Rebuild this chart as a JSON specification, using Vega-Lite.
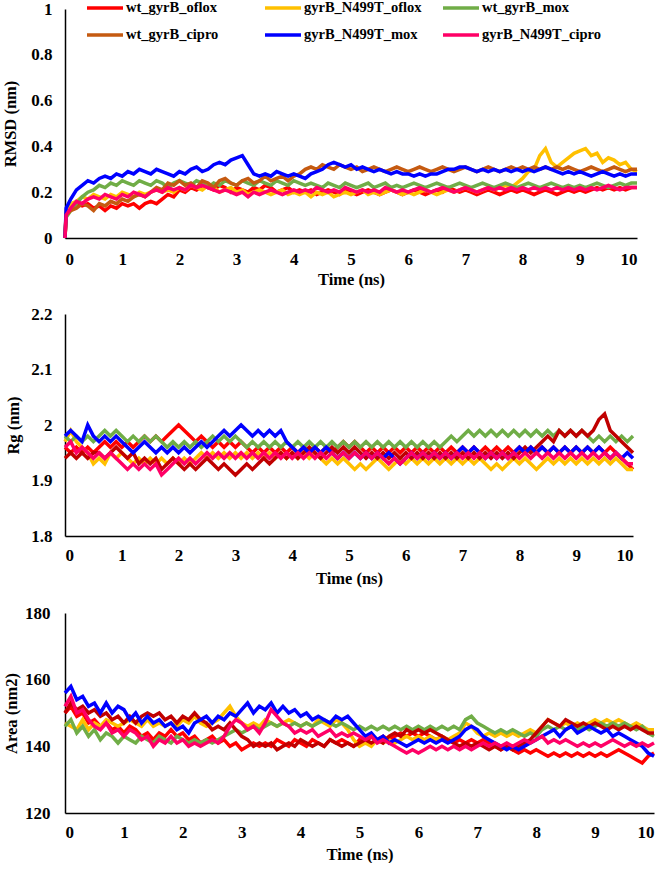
{
"$schema": "https://vega.github.io/schema/vega-lite/v6.json",
"background": "white",
"padding": {"left": 2, "top": -12, "right": 0, "bottom": 0},
"spacing": 17,
"resolve": {"scale": {"color": "independent"}},
"config": {
  "view": {"stroke": null},
  "axis": {"grid": false, "ticks": false, "domainColor": "black", "domainWidth": 1.5, "labelFont": "Liberation Serif", "labelFontWeight": "bold", "labelFontSize": 17, "labelColor": "black", "titleFont": "Liberation Serif", "titleFontWeight": "bold", "titleFontSize": 16.5, "titleColor": "black"},
  "line": {"strokeWidth": 3.5}
},
"vconcat": [
{
  "width": 572, "height": 229,
  "data": {"values": [
{"t":0,"a":0,"b":0,"c":0,"d":0,"e":0,"f":0},
{"t":0.02,"a":0.11,"b":0.12,"c":0.09,"d":0.1,"e":0.13,"f":0.1},
{"t":0.1,"a":0.13,"b":0.15,"c":0.12,"d":0.12,"e":0.17,"f":0.13},
{"t":0.2,"a":0.15,"b":0.16,"c":0.15,"d":0.13,"e":0.21,"f":0.16},
{"t":0.3,"a":0.14,"b":0.18,"c":0.18,"d":0.15,"e":0.23,"f":0.15},
{"t":0.4,"a":0.15,"b":0.17,"c":0.2,"d":0.14,"e":0.25,"f":0.17},
{"t":0.5,"a":0.13,"b":0.19,"c":0.21,"d":0.12,"e":0.24,"f":0.18},
{"t":0.6,"a":0.14,"b":0.18,"c":0.23,"d":0.15,"e":0.26,"f":0.17},
{"t":0.7,"a":0.12,"b":0.17,"c":0.22,"d":0.14,"e":0.27,"f":0.19},
{"t":0.8,"a":0.14,"b":0.19,"c":0.24,"d":0.16,"e":0.26,"f":0.18},
{"t":0.9,"a":0.13,"b":0.18,"c":0.23,"d":0.15,"e":0.28,"f":0.17},
{"t":1.0,"a":0.15,"b":0.2,"c":0.25,"d":0.17,"e":0.27,"f":0.19},
{"t":1.1,"a":0.14,"b":0.19,"c":0.24,"d":0.16,"e":0.29,"f":0.18},
{"t":1.2,"a":0.15,"b":0.18,"c":0.23,"d":0.18,"e":0.28,"f":0.2},
{"t":1.3,"a":0.13,"b":0.2,"c":0.25,"d":0.19,"e":0.3,"f":0.19},
{"t":1.4,"a":0.15,"b":0.19,"c":0.24,"d":0.18,"e":0.29,"f":0.18},
{"t":1.5,"a":0.16,"b":0.2,"c":0.23,"d":0.2,"e":0.28,"f":0.2},
{"t":1.6,"a":0.15,"b":0.21,"c":0.25,"d":0.22,"e":0.3,"f":0.21},
{"t":1.7,"a":0.17,"b":0.2,"c":0.24,"d":0.21,"e":0.29,"f":0.2},
{"t":1.8,"a":0.19,"b":0.21,"c":0.22,"d":0.24,"e":0.28,"f":0.22},
{"t":1.9,"a":0.18,"b":0.2,"c":0.24,"d":0.23,"e":0.27,"f":0.21},
{"t":2.0,"a":0.21,"b":0.22,"c":0.25,"d":0.25,"e":0.29,"f":0.22},
{"t":2.1,"a":0.2,"b":0.21,"c":0.24,"d":0.23,"e":0.28,"f":0.21},
{"t":2.2,"a":0.22,"b":0.23,"c":0.23,"d":0.24,"e":0.3,"f":0.23},
{"t":2.3,"a":0.21,"b":0.22,"c":0.25,"d":0.22,"e":0.31,"f":0.22},
{"t":2.4,"a":0.23,"b":0.21,"c":0.24,"d":0.25,"e":0.29,"f":0.23},
{"t":2.5,"a":0.22,"b":0.23,"c":0.22,"d":0.24,"e":0.3,"f":0.22},
{"t":2.6,"a":0.21,"b":0.22,"c":0.24,"d":0.22,"e":0.32,"f":0.21},
{"t":2.7,"a":0.23,"b":0.2,"c":0.23,"d":0.25,"e":0.33,"f":0.2},
{"t":2.8,"a":0.22,"b":0.21,"c":0.25,"d":0.26,"e":0.32,"f":0.21},
{"t":2.9,"a":0.2,"b":0.22,"c":0.24,"d":0.24,"e":0.34,"f":0.2},
{"t":3.0,"a":0.22,"b":0.2,"c":0.23,"d":0.23,"e":0.35,"f":0.19},
{"t":3.1,"a":0.21,"b":0.21,"c":0.25,"d":0.25,"e":0.36,"f":0.2},
{"t":3.2,"a":0.2,"b":0.19,"c":0.24,"d":0.26,"e":0.32,"f":0.18},
{"t":3.3,"a":0.22,"b":0.2,"c":0.23,"d":0.24,"e":0.28,"f":0.2},
{"t":3.4,"a":0.21,"b":0.21,"c":0.25,"d":0.25,"e":0.27,"f":0.19},
{"t":3.5,"a":0.23,"b":0.2,"c":0.24,"d":0.27,"e":0.28,"f":0.2},
{"t":3.6,"a":0.22,"b":0.19,"c":0.23,"d":0.25,"e":0.27,"f":0.21},
{"t":3.7,"a":0.2,"b":0.2,"c":0.25,"d":0.26,"e":0.29,"f":0.2},
{"t":3.8,"a":0.21,"b":0.21,"c":0.24,"d":0.27,"e":0.28,"f":0.19},
{"t":3.9,"a":0.22,"b":0.19,"c":0.23,"d":0.25,"e":0.27,"f":0.2},
{"t":4.0,"a":0.2,"b":0.2,"c":0.25,"d":0.27,"e":0.28,"f":0.21},
{"t":4.1,"a":0.21,"b":0.19,"c":0.24,"d":0.28,"e":0.27,"f":0.2},
{"t":4.2,"a":0.2,"b":0.2,"c":0.23,"d":0.3,"e":0.26,"f":0.21},
{"t":4.3,"a":0.21,"b":0.18,"c":0.24,"d":0.31,"e":0.28,"f":0.2},
{"t":4.4,"a":0.19,"b":0.2,"c":0.23,"d":0.3,"e":0.29,"f":0.22},
{"t":4.5,"a":0.2,"b":0.19,"c":0.22,"d":0.32,"e":0.3,"f":0.21},
{"t":4.6,"a":0.21,"b":0.2,"c":0.24,"d":0.31,"e":0.32,"f":0.2},
{"t":4.7,"a":0.2,"b":0.18,"c":0.23,"d":0.3,"e":0.33,"f":0.21},
{"t":4.8,"a":0.19,"b":0.19,"c":0.22,"d":0.32,"e":0.32,"f":0.2},
{"t":4.9,"a":0.21,"b":0.2,"c":0.24,"d":0.31,"e":0.31,"f":0.22},
{"t":5.0,"a":0.2,"b":0.19,"c":0.23,"d":0.3,"e":0.32,"f":0.21},
{"t":5.1,"a":0.19,"b":0.2,"c":0.22,"d":0.31,"e":0.3,"f":0.2},
{"t":5.2,"a":0.2,"b":0.21,"c":0.23,"d":0.29,"e":0.31,"f":0.21},
{"t":5.3,"a":0.21,"b":0.19,"c":0.24,"d":0.3,"e":0.3,"f":0.2},
{"t":5.4,"a":0.2,"b":0.2,"c":0.22,"d":0.31,"e":0.29,"f":0.21},
{"t":5.5,"a":0.19,"b":0.19,"c":0.23,"d":0.3,"e":0.3,"f":0.2},
{"t":5.6,"a":0.2,"b":0.2,"c":0.24,"d":0.29,"e":0.29,"f":0.22},
{"t":5.7,"a":0.21,"b":0.21,"c":0.22,"d":0.3,"e":0.28,"f":0.21},
{"t":5.8,"a":0.2,"b":0.2,"c":0.23,"d":0.31,"e":0.29,"f":0.2},
{"t":5.9,"a":0.19,"b":0.19,"c":0.22,"d":0.3,"e":0.28,"f":0.21},
{"t":6.0,"a":0.2,"b":0.2,"c":0.23,"d":0.29,"e":0.28,"f":0.2},
{"t":6.1,"a":0.21,"b":0.19,"c":0.24,"d":0.3,"e":0.27,"f":0.21},
{"t":6.2,"a":0.2,"b":0.2,"c":0.23,"d":0.31,"e":0.28,"f":0.22},
{"t":6.3,"a":0.19,"b":0.21,"c":0.22,"d":0.3,"e":0.27,"f":0.21},
{"t":6.4,"a":0.2,"b":0.2,"c":0.23,"d":0.29,"e":0.28,"f":0.2},
{"t":6.5,"a":0.21,"b":0.19,"c":0.24,"d":0.3,"e":0.28,"f":0.21},
{"t":6.6,"a":0.2,"b":0.2,"c":0.23,"d":0.31,"e":0.29,"f":0.22},
{"t":6.7,"a":0.22,"b":0.21,"c":0.22,"d":0.3,"e":0.3,"f":0.21},
{"t":6.8,"a":0.21,"b":0.2,"c":0.23,"d":0.29,"e":0.3,"f":0.2},
{"t":6.9,"a":0.2,"b":0.21,"c":0.24,"d":0.3,"e":0.31,"f":0.21},
{"t":7.0,"a":0.21,"b":0.22,"c":0.23,"d":0.31,"e":0.31,"f":0.22},
{"t":7.1,"a":0.2,"b":0.21,"c":0.22,"d":0.3,"e":0.3,"f":0.21},
{"t":7.2,"a":0.19,"b":0.2,"c":0.23,"d":0.29,"e":0.29,"f":0.2},
{"t":7.3,"a":0.2,"b":0.21,"c":0.24,"d":0.3,"e":0.3,"f":0.21},
{"t":7.4,"a":0.21,"b":0.22,"c":0.23,"d":0.31,"e":0.29,"f":0.22},
{"t":7.5,"a":0.2,"b":0.21,"c":0.22,"d":0.3,"e":0.3,"f":0.21},
{"t":7.6,"a":0.19,"b":0.22,"c":0.23,"d":0.29,"e":0.29,"f":0.22},
{"t":7.7,"a":0.2,"b":0.23,"c":0.24,"d":0.3,"e":0.3,"f":0.21},
{"t":7.8,"a":0.21,"b":0.22,"c":0.23,"d":0.31,"e":0.29,"f":0.22},
{"t":7.9,"a":0.2,"b":0.24,"c":0.22,"d":0.3,"e":0.3,"f":0.21},
{"t":8.0,"a":0.21,"b":0.26,"c":0.23,"d":0.31,"e":0.29,"f":0.22},
{"t":8.1,"a":0.2,"b":0.29,"c":0.24,"d":0.3,"e":0.3,"f":0.21},
{"t":8.2,"a":0.19,"b":0.3,"c":0.23,"d":0.31,"e":0.29,"f":0.22},
{"t":8.3,"a":0.2,"b":0.36,"c":0.22,"d":0.3,"e":0.3,"f":0.21},
{"t":8.4,"a":0.21,"b":0.39,"c":0.23,"d":0.31,"e":0.31,"f":0.22},
{"t":8.5,"a":0.2,"b":0.33,"c":0.24,"d":0.3,"e":0.3,"f":0.21},
{"t":8.6,"a":0.19,"b":0.31,"c":0.23,"d":0.31,"e":0.29,"f":0.22},
{"t":8.7,"a":0.2,"b":0.33,"c":0.22,"d":0.3,"e":0.28,"f":0.21},
{"t":8.8,"a":0.21,"b":0.35,"c":0.23,"d":0.31,"e":0.29,"f":0.22},
{"t":8.9,"a":0.2,"b":0.37,"c":0.22,"d":0.3,"e":0.28,"f":0.21},
{"t":9.0,"a":0.21,"b":0.38,"c":0.23,"d":0.29,"e":0.29,"f":0.22},
{"t":9.1,"a":0.2,"b":0.39,"c":0.22,"d":0.3,"e":0.28,"f":0.21},
{"t":9.2,"a":0.21,"b":0.36,"c":0.23,"d":0.31,"e":0.27,"f":0.22},
{"t":9.3,"a":0.22,"b":0.37,"c":0.24,"d":0.3,"e":0.28,"f":0.21},
{"t":9.4,"a":0.21,"b":0.33,"c":0.23,"d":0.29,"e":0.29,"f":0.22},
{"t":9.5,"a":0.22,"b":0.35,"c":0.22,"d":0.3,"e":0.28,"f":0.23},
{"t":9.6,"a":0.21,"b":0.34,"c":0.23,"d":0.31,"e":0.27,"f":0.22},
{"t":9.7,"a":0.22,"b":0.32,"c":0.24,"d":0.3,"e":0.28,"f":0.21},
{"t":9.8,"a":0.21,"b":0.33,"c":0.23,"d":0.29,"e":0.27,"f":0.22},
{"t":9.9,"a":0.22,"b":0.3,"c":0.24,"d":0.3,"e":0.28,"f":0.22},
{"t":10,"a":0.22,"b":0.29,"c":0.24,"d":0.3,"e":0.28,"f":0.22}
  ]},
  "transform": [{"fold": ["a","b","c","d","e","f"], "as": ["s","v"]}],
  "mark": {"type": "line", "strokeWidth": 3.5},
  "encoding": {
    "x": {"field": "t", "type": "quantitative", "scale": {"domain": [0,10], "nice": false}, "axis": {"values": [0,1,2,3,4,5,6,7,8,9,10], "title": "Time (ns)", "labelPadding": 13, "titlePadding": 4}},
    "y": {"field": "v", "type": "quantitative", "scale": {"domain": [0,1]}, "axis": {"values": [0,0.2,0.4,0.6,0.8,1], "format": "~g", "title": "RMSD (nm)", "labelPadding": 13, "titlePadding": 12}},
    "color": {"field": "s", "type": "nominal",
      "scale": {"domain": ["a","b","c","d","e","f"], "range": ["#FF0000","#FFC000","#70AD47","#C55A11","#0000FF","#FF0066"]},
      "legend": {"orient": "none", "direction": "horizontal", "legendX": 20, "legendY": -21, "columns": 3, "title": null, "symbolType": "stroke", "symbolSize": 1296, "symbolStrokeWidth": 4, "labelFont": "Liberation Serif", "labelFontWeight": "bold", "labelFontSize": 14.5, "labelColor": "black", "labelOffset": 1, "columnPadding": 13, "rowPadding": 0, "gridAlign": "all",
        "labelExpr": "datum.label == 'a' ? 'wt_gyrB_oflox' : datum.label == 'b' ? 'gyrB_N499T_oflox' : datum.label == 'c' ? 'wt_gyrB_mox' : datum.label == 'd' ? 'wt_gyrB_cipro' : datum.label == 'e' ? 'gyrB_N499T_mox' : 'gyrB_N499T_cipro'"}}
  }
},
{
  "width": 568, "height": 222,
  "data": {"values": [
{"t":0,"a":1.96,"b":1.97,"c":1.98,"d":1.94,"e":1.98,"f":1.96},
{"t":0.1,"a":1.95,"b":1.99,"c":1.97,"d":1.95,"e":1.99,"f":1.97},
{"t":0.2,"a":1.96,"b":1.97,"c":1.98,"d":1.94,"e":1.98,"f":1.95},
{"t":0.3,"a":1.95,"b":1.96,"c":1.97,"d":1.95,"e":1.97,"f":1.96},
{"t":0.4,"a":1.96,"b":1.95,"c":1.98,"d":1.94,"e":2.0,"f":1.95},
{"t":0.5,"a":1.95,"b":1.93,"c":1.97,"d":1.95,"e":1.98,"f":1.94},
{"t":0.6,"a":1.96,"b":1.94,"c":1.98,"d":1.95,"e":1.97,"f":1.95},
{"t":0.7,"a":1.97,"b":1.93,"c":1.99,"d":1.94,"e":1.98,"f":1.94},
{"t":0.8,"a":1.96,"b":1.95,"c":1.98,"d":1.95,"e":1.97,"f":1.95},
{"t":0.9,"a":1.97,"b":1.94,"c":1.99,"d":1.96,"e":1.98,"f":1.94},
{"t":1.0,"a":1.96,"b":1.95,"c":1.98,"d":1.95,"e":1.97,"f":1.93},
{"t":1.1,"a":1.97,"b":1.94,"c":1.97,"d":1.94,"e":1.96,"f":1.92},
{"t":1.2,"a":1.96,"b":1.93,"c":1.98,"d":1.95,"e":1.95,"f":1.93},
{"t":1.3,"a":1.97,"b":1.94,"c":1.97,"d":1.93,"e":1.96,"f":1.92},
{"t":1.4,"a":1.98,"b":1.93,"c":1.98,"d":1.94,"e":1.97,"f":1.93},
{"t":1.5,"a":1.97,"b":1.94,"c":1.97,"d":1.93,"e":1.96,"f":1.92},
{"t":1.6,"a":1.98,"b":1.93,"c":1.98,"d":1.94,"e":1.95,"f":1.93},
{"t":1.7,"a":1.97,"b":1.94,"c":1.97,"d":1.92,"e":1.96,"f":1.91},
{"t":1.8,"a":1.98,"b":1.93,"c":1.96,"d":1.93,"e":1.95,"f":1.92},
{"t":1.9,"a":1.99,"b":1.94,"c":1.97,"d":1.94,"e":1.96,"f":1.93},
{"t":2.0,"a":2.0,"b":1.93,"c":1.96,"d":1.93,"e":1.95,"f":1.94},
{"t":2.1,"a":1.99,"b":1.94,"c":1.97,"d":1.92,"e":1.96,"f":1.93},
{"t":2.2,"a":1.98,"b":1.93,"c":1.96,"d":1.93,"e":1.95,"f":1.94},
{"t":2.3,"a":1.97,"b":1.94,"c":1.97,"d":1.92,"e":1.96,"f":1.93},
{"t":2.4,"a":1.98,"b":1.95,"c":1.96,"d":1.93,"e":1.97,"f":1.94},
{"t":2.5,"a":1.97,"b":1.94,"c":1.97,"d":1.94,"e":1.96,"f":1.95},
{"t":2.6,"a":1.96,"b":1.95,"c":1.98,"d":1.93,"e":1.97,"f":1.94},
{"t":2.7,"a":1.97,"b":1.94,"c":1.97,"d":1.92,"e":1.98,"f":1.95},
{"t":2.8,"a":1.96,"b":1.95,"c":1.98,"d":1.93,"e":1.99,"f":1.94},
{"t":2.9,"a":1.97,"b":1.94,"c":1.97,"d":1.92,"e":1.98,"f":1.95},
{"t":3.0,"a":1.96,"b":1.95,"c":1.98,"d":1.91,"e":1.99,"f":1.94},
{"t":3.1,"a":1.97,"b":1.94,"c":1.97,"d":1.92,"e":2.0,"f":1.95},
{"t":3.2,"a":1.96,"b":1.95,"c":1.96,"d":1.93,"e":1.99,"f":1.94},
{"t":3.3,"a":1.95,"b":1.94,"c":1.97,"d":1.92,"e":1.98,"f":1.95},
{"t":3.4,"a":1.96,"b":1.95,"c":1.96,"d":1.93,"e":1.99,"f":1.94},
{"t":3.5,"a":1.95,"b":1.94,"c":1.97,"d":1.94,"e":1.98,"f":1.95},
{"t":3.6,"a":1.96,"b":1.95,"c":1.96,"d":1.93,"e":1.99,"f":1.94},
{"t":3.7,"a":1.95,"b":1.94,"c":1.97,"d":1.94,"e":1.98,"f":1.95},
{"t":3.8,"a":1.96,"b":1.95,"c":1.96,"d":1.95,"e":1.99,"f":1.94},
{"t":3.9,"a":1.95,"b":1.94,"c":1.97,"d":1.94,"e":1.97,"f":1.95},
{"t":4.0,"a":1.96,"b":1.95,"c":1.96,"d":1.95,"e":1.96,"f":1.94},
{"t":4.1,"a":1.95,"b":1.94,"c":1.97,"d":1.94,"e":1.95,"f":1.95},
{"t":4.2,"a":1.96,"b":1.95,"c":1.96,"d":1.95,"e":1.96,"f":1.94},
{"t":4.3,"a":1.95,"b":1.94,"c":1.97,"d":1.96,"e":1.95,"f":1.95},
{"t":4.4,"a":1.96,"b":1.95,"c":1.96,"d":1.95,"e":1.96,"f":1.94},
{"t":4.5,"a":1.95,"b":1.94,"c":1.97,"d":1.94,"e":1.95,"f":1.95},
{"t":4.6,"a":1.96,"b":1.93,"c":1.96,"d":1.95,"e":1.96,"f":1.94},
{"t":4.7,"a":1.95,"b":1.94,"c":1.97,"d":1.96,"e":1.95,"f":1.95},
{"t":4.8,"a":1.96,"b":1.93,"c":1.96,"d":1.95,"e":1.94,"f":1.94},
{"t":4.9,"a":1.97,"b":1.94,"c":1.97,"d":1.96,"e":1.95,"f":1.95},
{"t":5.0,"a":1.96,"b":1.93,"c":1.96,"d":1.95,"e":1.94,"f":1.94},
{"t":5.1,"a":1.97,"b":1.92,"c":1.97,"d":1.96,"e":1.95,"f":1.95},
{"t":5.2,"a":1.96,"b":1.93,"c":1.96,"d":1.95,"e":1.94,"f":1.94},
{"t":5.3,"a":1.95,"b":1.92,"c":1.97,"d":1.94,"e":1.95,"f":1.95},
{"t":5.4,"a":1.96,"b":1.93,"c":1.96,"d":1.95,"e":1.94,"f":1.94},
{"t":5.5,"a":1.95,"b":1.94,"c":1.97,"d":1.94,"e":1.95,"f":1.95},
{"t":5.6,"a":1.96,"b":1.93,"c":1.96,"d":1.95,"e":1.94,"f":1.94},
{"t":5.7,"a":1.95,"b":1.92,"c":1.97,"d":1.94,"e":1.95,"f":1.93},
{"t":5.8,"a":1.96,"b":1.93,"c":1.96,"d":1.95,"e":1.94,"f":1.94},
{"t":5.9,"a":1.95,"b":1.94,"c":1.97,"d":1.94,"e":1.93,"f":1.93},
{"t":6.0,"a":1.96,"b":1.93,"c":1.96,"d":1.95,"e":1.94,"f":1.94},
{"t":6.1,"a":1.95,"b":1.94,"c":1.97,"d":1.94,"e":1.95,"f":1.95},
{"t":6.2,"a":1.96,"b":1.93,"c":1.96,"d":1.95,"e":1.94,"f":1.94},
{"t":6.3,"a":1.95,"b":1.94,"c":1.97,"d":1.94,"e":1.95,"f":1.95},
{"t":6.4,"a":1.96,"b":1.93,"c":1.96,"d":1.95,"e":1.94,"f":1.94},
{"t":6.5,"a":1.95,"b":1.94,"c":1.97,"d":1.94,"e":1.95,"f":1.95},
{"t":6.6,"a":1.96,"b":1.93,"c":1.96,"d":1.95,"e":1.94,"f":1.94},
{"t":6.7,"a":1.95,"b":1.94,"c":1.97,"d":1.94,"e":1.95,"f":1.95},
{"t":6.8,"a":1.96,"b":1.93,"c":1.98,"d":1.95,"e":1.94,"f":1.94},
{"t":6.9,"a":1.95,"b":1.94,"c":1.97,"d":1.94,"e":1.95,"f":1.95},
{"t":7.0,"a":1.96,"b":1.93,"c":1.98,"d":1.95,"e":1.96,"f":1.94},
{"t":7.1,"a":1.95,"b":1.94,"c":1.99,"d":1.94,"e":1.95,"f":1.95},
{"t":7.2,"a":1.96,"b":1.93,"c":1.98,"d":1.95,"e":1.96,"f":1.94},
{"t":7.3,"a":1.95,"b":1.94,"c":1.99,"d":1.94,"e":1.95,"f":1.95},
{"t":7.4,"a":1.96,"b":1.93,"c":1.98,"d":1.95,"e":1.94,"f":1.94},
{"t":7.5,"a":1.95,"b":1.92,"c":1.99,"d":1.94,"e":1.95,"f":1.95},
{"t":7.6,"a":1.96,"b":1.93,"c":1.98,"d":1.95,"e":1.94,"f":1.94},
{"t":7.7,"a":1.95,"b":1.92,"c":1.99,"d":1.94,"e":1.95,"f":1.95},
{"t":7.8,"a":1.96,"b":1.93,"c":1.98,"d":1.95,"e":1.94,"f":1.94},
{"t":7.9,"a":1.95,"b":1.94,"c":1.99,"d":1.94,"e":1.95,"f":1.95},
{"t":8.0,"a":1.96,"b":1.93,"c":1.98,"d":1.95,"e":1.96,"f":1.94},
{"t":8.1,"a":1.95,"b":1.94,"c":1.99,"d":1.96,"e":1.95,"f":1.95},
{"t":8.2,"a":1.96,"b":1.93,"c":1.98,"d":1.95,"e":1.96,"f":1.94},
{"t":8.3,"a":1.95,"b":1.92,"c":1.99,"d":1.96,"e":1.95,"f":1.95},
{"t":8.4,"a":1.96,"b":1.93,"c":1.98,"d":1.97,"e":1.96,"f":1.94},
{"t":8.5,"a":1.95,"b":1.94,"c":1.99,"d":1.98,"e":1.95,"f":1.95},
{"t":8.6,"a":1.96,"b":1.93,"c":1.98,"d":1.97,"e":1.96,"f":1.94},
{"t":8.7,"a":1.95,"b":1.94,"c":1.99,"d":1.99,"e":1.95,"f":1.95},
{"t":8.8,"a":1.96,"b":1.93,"c":1.98,"d":1.98,"e":1.96,"f":1.94},
{"t":8.9,"a":1.95,"b":1.94,"c":1.99,"d":1.99,"e":1.95,"f":1.95},
{"t":9.0,"a":1.96,"b":1.93,"c":1.98,"d":1.98,"e":1.96,"f":1.94},
{"t":9.1,"a":1.95,"b":1.94,"c":1.99,"d":1.99,"e":1.95,"f":1.95},
{"t":9.2,"a":1.96,"b":1.93,"c":1.98,"d":1.98,"e":1.96,"f":1.94},
{"t":9.3,"a":1.95,"b":1.94,"c":1.97,"d":1.99,"e":1.95,"f":1.95},
{"t":9.4,"a":1.96,"b":1.93,"c":1.98,"d":2.01,"e":1.96,"f":1.94},
{"t":9.5,"a":1.95,"b":1.94,"c":1.97,"d":2.02,"e":1.95,"f":1.95},
{"t":9.6,"a":1.96,"b":1.93,"c":1.98,"d":1.99,"e":1.94,"f":1.94},
{"t":9.7,"a":1.95,"b":1.94,"c":1.97,"d":1.98,"e":1.95,"f":1.95},
{"t":9.8,"a":1.94,"b":1.93,"c":1.98,"d":1.97,"e":1.94,"f":1.94},
{"t":9.9,"a":1.93,"b":1.92,"c":1.97,"d":1.96,"e":1.95,"f":1.93},
{"t":10,"a":1.92,"b":1.92,"c":1.98,"d":1.95,"e":1.94,"f":1.93}
  ]},
  "transform": [{"fold": ["a","b","c","d","e","f"], "as": ["s","v"]}],
  "mark": {"type": "line", "strokeWidth": 3.5},
  "encoding": {
    "x": {"field": "t", "type": "quantitative", "scale": {"domain": [0,10], "nice": false}, "axis": {"values": [0,1,2,3,4,5,6,7,8,9,10], "title": "Time (ns)", "labelPadding": 11, "titlePadding": 7}},
    "y": {"field": "v", "type": "quantitative", "scale": {"domain": [1.8,2.2], "zero": false}, "axis": {"values": [1.8,1.9,2,2.1,2.2], "format": "~g", "title": "Rg (nm)", "labelPadding": 13, "titlePadding": 9}},
    "color": {"field": "s", "type": "nominal", "legend": null,
      "scale": {"domain": ["a","b","c","d","e","f"], "range": ["#FF0000","#FFC000","#70AD47","#C00000","#0000FF","#FF0066"]}}
  }
},
{
  "width": 589, "height": 200,
  "data": {"values": [
{"t":0,"a":150,"b":147,"c":146,"d":150,"e":156,"f":152},
{"t":0.1,"a":152,"b":146,"c":148,"d":153,"e":158,"f":155},
{"t":0.2,"a":149,"b":145,"c":144,"d":151,"e":154,"f":150},
{"t":0.3,"a":150,"b":148,"c":146,"d":152,"e":155,"f":151},
{"t":0.4,"a":147,"b":145,"c":143,"d":150,"e":152,"f":148},
{"t":0.5,"a":148,"b":147,"c":145,"d":151,"e":153,"f":146},
{"t":0.6,"a":146,"b":146,"c":142,"d":149,"e":150,"f":145},
{"t":0.7,"a":147,"b":148,"c":144,"d":150,"e":153,"f":147},
{"t":0.8,"a":145,"b":147,"c":143,"d":148,"e":150,"f":144},
{"t":0.9,"a":146,"b":146,"c":141,"d":149,"e":152,"f":145},
{"t":1.0,"a":144,"b":147,"c":143,"d":147,"e":151,"f":143},
{"t":1.1,"a":146,"b":148,"c":142,"d":149,"e":148,"f":145},
{"t":1.2,"a":145,"b":147,"c":141,"d":147,"e":150,"f":144},
{"t":1.3,"a":143,"b":146,"c":143,"d":149,"e":147,"f":142},
{"t":1.4,"a":144,"b":148,"c":142,"d":150,"e":149,"f":143},
{"t":1.5,"a":142,"b":146,"c":141,"d":149,"e":147,"f":140},
{"t":1.6,"a":144,"b":147,"c":143,"d":150,"e":148,"f":142},
{"t":1.7,"a":143,"b":146,"c":142,"d":148,"e":146,"f":141},
{"t":1.8,"a":145,"b":147,"c":141,"d":149,"e":147,"f":143},
{"t":1.9,"a":143,"b":146,"c":143,"d":147,"e":145,"f":141},
{"t":2.0,"a":144,"b":148,"c":142,"d":149,"e":146,"f":142},
{"t":2.1,"a":142,"b":147,"c":141,"d":148,"e":144,"f":140},
{"t":2.2,"a":143,"b":149,"c":142,"d":150,"e":147,"f":141},
{"t":2.3,"a":141,"b":147,"c":141,"d":148,"e":148,"f":140},
{"t":2.4,"a":142,"b":146,"c":142,"d":147,"e":149,"f":141},
{"t":2.5,"a":143,"b":147,"c":141,"d":145,"e":147,"f":142},
{"t":2.6,"a":141,"b":148,"c":142,"d":146,"e":149,"f":141},
{"t":2.7,"a":142,"b":150,"c":143,"d":145,"e":148,"f":143},
{"t":2.8,"a":140,"b":152,"c":144,"d":147,"e":150,"f":146},
{"t":2.9,"a":141,"b":149,"c":145,"d":145,"e":149,"f":148},
{"t":3.0,"a":139,"b":147,"c":144,"d":143,"e":151,"f":147},
{"t":3.1,"a":140,"b":146,"c":145,"d":142,"e":153,"f":145},
{"t":3.2,"a":141,"b":147,"c":146,"d":140,"e":150,"f":146},
{"t":3.3,"a":140,"b":146,"c":145,"d":141,"e":152,"f":144},
{"t":3.4,"a":141,"b":148,"c":146,"d":140,"e":151,"f":147},
{"t":3.5,"a":140,"b":147,"c":147,"d":141,"e":153,"f":151},
{"t":3.6,"a":142,"b":146,"c":146,"d":139,"e":150,"f":149},
{"t":3.7,"a":141,"b":147,"c":147,"d":140,"e":152,"f":147},
{"t":3.8,"a":140,"b":148,"c":146,"d":141,"e":150,"f":146},
{"t":3.9,"a":142,"b":147,"c":147,"d":140,"e":151,"f":144},
{"t":4.0,"a":141,"b":146,"c":146,"d":142,"e":149,"f":145},
{"t":4.1,"a":140,"b":147,"c":147,"d":141,"e":150,"f":144},
{"t":4.2,"a":142,"b":146,"c":146,"d":140,"e":148,"f":145},
{"t":4.3,"a":141,"b":148,"c":147,"d":141,"e":149,"f":143},
{"t":4.4,"a":140,"b":147,"c":148,"d":140,"e":148,"f":144},
{"t":4.5,"a":142,"b":146,"c":147,"d":142,"e":147,"f":145},
{"t":4.6,"a":141,"b":148,"c":146,"d":141,"e":149,"f":143},
{"t":4.7,"a":142,"b":147,"c":147,"d":140,"e":148,"f":144},
{"t":4.8,"a":141,"b":145,"c":146,"d":141,"e":149,"f":143},
{"t":4.9,"a":140,"b":142,"c":145,"d":140,"e":147,"f":144},
{"t":5.0,"a":142,"b":140,"c":146,"d":141,"e":145,"f":143},
{"t":5.1,"a":141,"b":141,"c":145,"d":142,"e":143,"f":142},
{"t":5.2,"a":143,"b":140,"c":146,"d":141,"e":144,"f":143},
{"t":5.3,"a":142,"b":142,"c":145,"d":142,"e":142,"f":141},
{"t":5.4,"a":143,"b":141,"c":146,"d":141,"e":143,"f":142},
{"t":5.5,"a":142,"b":142,"c":145,"d":143,"e":141,"f":141},
{"t":5.6,"a":143,"b":141,"c":146,"d":144,"e":142,"f":140},
{"t":5.7,"a":144,"b":142,"c":145,"d":143,"e":141,"f":139},
{"t":5.8,"a":143,"b":143,"c":146,"d":145,"e":140,"f":138},
{"t":5.9,"a":144,"b":142,"c":145,"d":144,"e":141,"f":139},
{"t":6.0,"a":143,"b":143,"c":146,"d":145,"e":142,"f":138},
{"t":6.1,"a":144,"b":142,"c":145,"d":144,"e":141,"f":139},
{"t":6.2,"a":143,"b":143,"c":146,"d":145,"e":142,"f":140},
{"t":6.3,"a":142,"b":142,"c":145,"d":144,"e":141,"f":139},
{"t":6.4,"a":143,"b":143,"c":146,"d":143,"e":142,"f":140},
{"t":6.5,"a":142,"b":142,"c":145,"d":142,"e":141,"f":139},
{"t":6.6,"a":141,"b":143,"c":146,"d":141,"e":142,"f":140},
{"t":6.7,"a":142,"b":144,"c":145,"d":140,"e":143,"f":139},
{"t":6.8,"a":141,"b":147,"c":148,"d":141,"e":145,"f":140},
{"t":6.9,"a":142,"b":146,"c":149,"d":140,"e":146,"f":139},
{"t":7.0,"a":141,"b":144,"c":147,"d":141,"e":145,"f":140},
{"t":7.1,"a":142,"b":143,"c":146,"d":140,"e":143,"f":141},
{"t":7.2,"a":141,"b":144,"c":145,"d":139,"e":142,"f":140},
{"t":7.3,"a":140,"b":143,"c":144,"d":140,"e":141,"f":141},
{"t":7.4,"a":139,"b":144,"c":145,"d":139,"e":140,"f":140},
{"t":7.5,"a":140,"b":143,"c":144,"d":140,"e":139,"f":141},
{"t":7.6,"a":139,"b":144,"c":145,"d":139,"e":140,"f":140},
{"t":7.7,"a":138,"b":143,"c":144,"d":140,"e":139,"f":141},
{"t":7.8,"a":139,"b":144,"c":143,"d":141,"e":140,"f":142},
{"t":7.9,"a":138,"b":145,"c":144,"d":142,"e":141,"f":141},
{"t":8.0,"a":139,"b":144,"c":143,"d":144,"e":142,"f":142},
{"t":8.1,"a":138,"b":146,"c":145,"d":146,"e":143,"f":143},
{"t":8.2,"a":137,"b":148,"c":146,"d":148,"e":144,"f":141},
{"t":8.3,"a":138,"b":147,"c":145,"d":147,"e":145,"f":142},
{"t":8.4,"a":137,"b":146,"c":146,"d":146,"e":143,"f":141},
{"t":8.5,"a":138,"b":147,"c":145,"d":148,"e":145,"f":142},
{"t":8.6,"a":137,"b":146,"c":146,"d":147,"e":146,"f":141},
{"t":8.7,"a":138,"b":147,"c":145,"d":146,"e":144,"f":140},
{"t":8.8,"a":137,"b":146,"c":146,"d":147,"e":145,"f":141},
{"t":8.9,"a":138,"b":147,"c":145,"d":146,"e":146,"f":140},
{"t":9.0,"a":137,"b":148,"c":146,"d":147,"e":145,"f":141},
{"t":9.1,"a":138,"b":147,"c":147,"d":146,"e":144,"f":140},
{"t":9.2,"a":137,"b":148,"c":146,"d":145,"e":145,"f":141},
{"t":9.3,"a":138,"b":147,"c":147,"d":146,"e":143,"f":142},
{"t":9.4,"a":139,"b":148,"c":146,"d":145,"e":144,"f":141},
{"t":9.5,"a":138,"b":147,"c":147,"d":146,"e":143,"f":140},
{"t":9.6,"a":137,"b":146,"c":146,"d":145,"e":142,"f":141},
{"t":9.7,"a":136,"b":147,"c":145,"d":146,"e":141,"f":140},
{"t":9.8,"a":135,"b":146,"c":146,"d":145,"e":140,"f":141},
{"t":9.9,"a":137,"b":145,"c":144,"d":144,"e":138,"f":140},
{"t":10,"a":138,"b":145,"c":143,"d":144,"e":137,"f":141}
  ]},
  "transform": [{"fold": ["a","b","c","d","e","f"], "as": ["s","v"]}],
  "mark": {"type": "line", "strokeWidth": 3.5},
  "encoding": {
    "x": {"field": "t", "type": "quantitative", "scale": {"domain": [0,10], "nice": false}, "axis": {"values": [0,1,2,3,4,5,6,7,8,9,10], "title": "Time (ns)", "labelPadding": 11, "titlePadding": 6}},
    "y": {"field": "v", "type": "quantitative", "scale": {"domain": [120,180], "zero": false}, "axis": {"values": [120,140,160,180], "title": "Area (nm2)", "labelPadding": 15, "titlePadding": 5}},
    "color": {"field": "s", "type": "nominal", "legend": null,
      "scale": {"domain": ["a","b","c","d","e","f"], "range": ["#FF0000","#FFC000","#70AD47","#C00000","#0000FF","#FF0066"]}}
  }
}
]
}
